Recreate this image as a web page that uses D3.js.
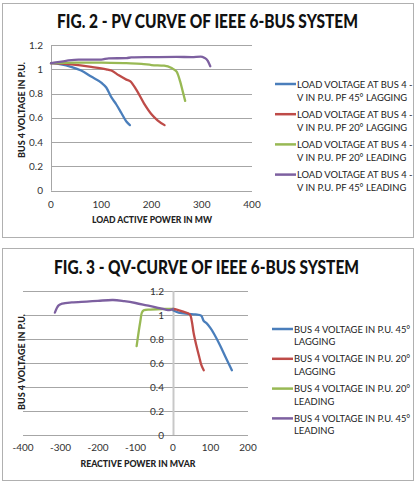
<!DOCTYPE html>
<html>
<head>
<meta charset="utf-8">
<script src="https://cdn.jsdelivr.net/npm/d3@7"></script>
<style>
	body { margin: 0; background: #fff; }
	svg text { font-family: Lato, "Open Sans", sans-serif; fill: #222; }
</style>
</head>
<body>
<div id="chart"></div>
<script>

// PV curve (fig. 2) : [MW, p.u.]
var pvLag45  = [[0,1.05],[20,1.04],[40,1.02],[60,0.99],[80,0.94],[100,0.89],[110,0.85],[120,0.77],[130,0.71],[140,0.64],[150,0.57],[157,0.54]];
var pvLag20  = [[0,1.05],[40,1.04],[80,1.02],[110,1.00],[120,0.99],[135,0.95],[150,0.915],[158,0.90],[170,0.83],[185,0.72],[200,0.63],[212,0.58],[226,0.54]];
var pvLead20 = [[0,1.05],[50,1.055],[100,1.055],[150,1.05],[180,1.045],[200,1.035],[225,1.03],[240,1.01],[250,0.98],[257,0.9],[262,0.82],[267,0.74]];
var pvLead45 = [[0,1.05],[30,1.07],[55,1.08],[100,1.08],[115,1.09],[150,1.092],[160,1.098],[200,1.1],[250,1.102],[280,1.1],[298,1.105],[305,1.095],[312,1.07],[317,1.025]];

// QV curve (fig. 3) : [MVAR, p.u.]
var qvLag45  = [[0,1.04],[15,1.02],[40,1.01],[60,1.005],[75,0.995],[82,0.95],[90,0.93],[100,0.89],[110,0.84],[125,0.75],[140,0.65],[157,0.54]];
var qvLag20  = [[0,1.05],[10,1.045],[25,1.03],[45,1.005],[50,0.95],[55,0.85],[62,0.75],[70,0.65],[76,0.58],[82,0.54]];
var qvLead20 = [[-97,0.74],[-92,0.85],[-87,0.95],[-83,1.02],[-78,1.04],[-60,1.045],[-30,1.05],[0,1.05]];
var qvLead45 = [[-315,1.02],[-305,1.08],[-295,1.095],[-270,1.105],[-230,1.112],[-200,1.118],[-160,1.125],[-130,1.115],[-100,1.1],[-70,1.08],[-40,1.06],[-20,1.045],[-10,1.04],[0,1.05]];

var yTicks  = [0, 0.2, 0.4, 0.6, 0.8, 1, 1.2];
var pvTicks = [0, 100, 200, 300, 400];
var qvTicks = [-400, -300, -200, -100, 0, 100, 200];

var pvNames = [
	["LOAD VOLTAGE AT BUS 4 -", "V IN P.U. PF 45° LAGGING"],
	["LOAD VOLTAGE AT BUS 4 -", "V IN P.U. PF 20° LAGGING"],
	["LOAD VOLTAGE AT BUS 4 -", "V IN P.U. PF 20° LEADING"],
	["LOAD VOLTAGE AT BUS 4 -", "V IN P.U. PF 45° LEADING"]
];
var qvNames = [
	["BUS 4 VOLTAGE IN P.U. 45°", "LAGGING"],
	["BUS 4 VOLTAGE IN P.U. 20°", "LAGGING"],
	["BUS 4 VOLTAGE IN P.U. 20°", "LEADING"],
	["BUS 4 VOLTAGE IN P.U. 45°", "LEADING"]
];

var colors = ["#4a7ebb", "#be4b48", "#98b954", "#7d60a0"];

var svg = d3.select("#chart")
	.append("svg")
	.attr("width", 419)
	.attr("height", 493);

// squeeze bold titles to the width they take in the original (narrow font there)
function fit( sel, w ) {
	return sel.attr("textLength", w).attr("lengthAdjust", "spacingAndGlyphs");
}

function drawChart( o ) {

	var g = svg.append("g");

	g.append("rect")
		.attr("x", o.box[0] + 0.5)
		.attr("y", o.box[1] + 0.5)
		.attr("width", o.box[2])
		.attr("height", o.box[3])
		.attr("fill", "#fff")
		.attr("stroke", "#b0b0b0");

	fit( g.append("text")
		.attr("x", o.titleX)
		.attr("y", o.titleY)
		.attr("text-anchor", "middle")
		.style("font-weight", "900")
		.style("font-size", "18px")
		.style("fill", "#111")
		.text(o.title), o.titleW );

	var x = d3.scaleLinear().domain(o.xDomain).range(o.xRange);
	var y = d3.scaleLinear().domain([0, 1.2]).range(o.yRange);

	// gridlines
	g.append("g")
		.selectAll("line")
		.data(yTicks)
		.enter()
		.append("line")
		.attr("x1", o.xRange[0])
		.attr("x2", o.xRange[1])
		.attr("y1", function(d) { return Math.round(y(d)) + 0.5; })
		.attr("y2", function(d) { return Math.round(y(d)) + 0.5; })
		.attr("stroke", "#a6a6a6");

	// vertical axis line at x = 0
	g.append("line")
		.attr("x1", Math.round(x(0)) + 0.5)
		.attr("x2", Math.round(x(0)) + 0.5)
		.attr("y1", o.yRange[1])
		.attr("y2", o.yRange[0])
		.attr("stroke", o.vAxisColor)
		.attr("stroke-width", o.vAxisWidth);

	// y tick labels
	g.append("g")
		.selectAll("text")
		.data(yTicks)
		.enter()
		.append("text")
		.attr("x", x(0) - o.yLabelGap)
		.attr("y", function(d) { return y(d) + 3.5; })
		.attr("text-anchor", "end")
		.style("font-size", "10px")
		.style("fill", "#333")
		.text(function(d) { return d3.format("")(d); });

	// x tick labels
	g.append("g")
		.selectAll("text")
		.data(o.xTicks)
		.enter()
		.append("text")
		.attr("x", function(d) { return x(d); })
		.attr("y", o.xLabelY)
		.attr("text-anchor", "middle")
		.style("font-size", "10px")
		.style("fill", "#333")
		.text(function(d) { return d; });

	fit( g.append("text")
		.attr("x", o.xTitleX)
		.attr("y", o.xTitleY)
		.attr("text-anchor", "middle")
		.style("font-weight", "900")
		.style("font-size", "10px")
		.text(o.xTitle), o.xTitleW );

	fit( g.append("text")
		.attr("transform", "translate(" + o.yTitleX + "," + o.yTitleY + ") rotate(-90)")
		.attr("text-anchor", "middle")
		.style("font-weight", "900")
		.style("font-size", "10px")
		.text("BUS 4 VOLTAGE IN P.U."), 96 );

	var line = d3.line()
		.x(function(d) { return x(d[0]); })
		.y(function(d) { return y(d[1]); });

	o.series.forEach(function(s, i) {
		g.append("path")
			.datum(s)
			.attr("d", line.curve(o.curve))
			.attr("fill", "none")
			.attr("stroke", colors[i])
			.attr("stroke-width", 2.3)
			.attr("stroke-linejoin", "round")
			.attr("stroke-linecap", "round");
	});

	// legend
	var lg = g.append("g");
	o.names.forEach(function(n, i) {
		var ly = o.legY + i * o.legStep;
		lg.append("line")
			.attr("x1", o.legX)
			.attr("x2", o.legX + 21)
			.attr("y1", ly)
			.attr("y2", ly)
			.attr("stroke", colors[i])
			.attr("stroke-width", 2.5);
		n.forEach(function(t, j) {
			lg.append("text")
				.attr("x", o.legX + 22)
				.attr("y", ly + 3.5 + j * o.legLine)
				.style("font-size", "9.4px")
				.text(t);
		});
	});
}

drawChart({
	box:      [2, 3, 411, 234],
	title:    "FIG. 2 - PV CURVE OF IEEE 6-BUS SYSTEM",
	titleX:   207.5,
	titleY:   28,
	titleW:   301,
	xDomain:  [0, 400],
	xRange:   [51, 252],
	yRange:   [190.7, 45],
	xTicks:   pvTicks,
	xLabelY:  207.5,
	xTitle:   "LOAD ACTIVE POWER IN MW",
	xTitleX:  152,
	xTitleY:  222.5,
	xTitleW:  120,
	yTitleX:  25,
	yTitleY:  110,
	yLabelGap: 8,
	vAxisColor: "#a6a6a6",
	vAxisWidth: 1,
	series:   [pvLag45, pvLag20, pvLead20, pvLead45],
	curve:    d3.curveMonotoneX,
	names:    pvNames,
	legX:     275,
	legY:     84,
	legStep:  30.2,
	legLine:  13
});

drawChart({
	box:      [2, 248, 411, 232],
	title:    "FIG. 3 - QV-CURVE OF IEEE 6-BUS SYSTEM",
	titleX:   206.5,
	titleY:   274,
	titleW:   305,
	xDomain:  [-400, 200],
	xRange:   [23, 248],
	yRange:   [435, 291],
	xTicks:   qvTicks,
	xLabelY:  450.5,
	xTitle:   "REACTIVE POWER IN MVAR",
	xTitleX:  138,
	xTitleY:  466.5,
	xTitleW:  115,
	yTitleX:  25,
	yTitleY:  362,
	yLabelGap: 9,
	vAxisColor: "#c8c8c8",
	vAxisWidth: 2,
	series:   [qvLag45, qvLag20, qvLead20, qvLead45],
	curve:    d3.curveCatmullRom.alpha(0.5),
	names:    qvNames,
	legX:     272,
	legY:     329,
	legStep:  29.8,
	legLine:  12.5
});

</script>
</body>
</html>
